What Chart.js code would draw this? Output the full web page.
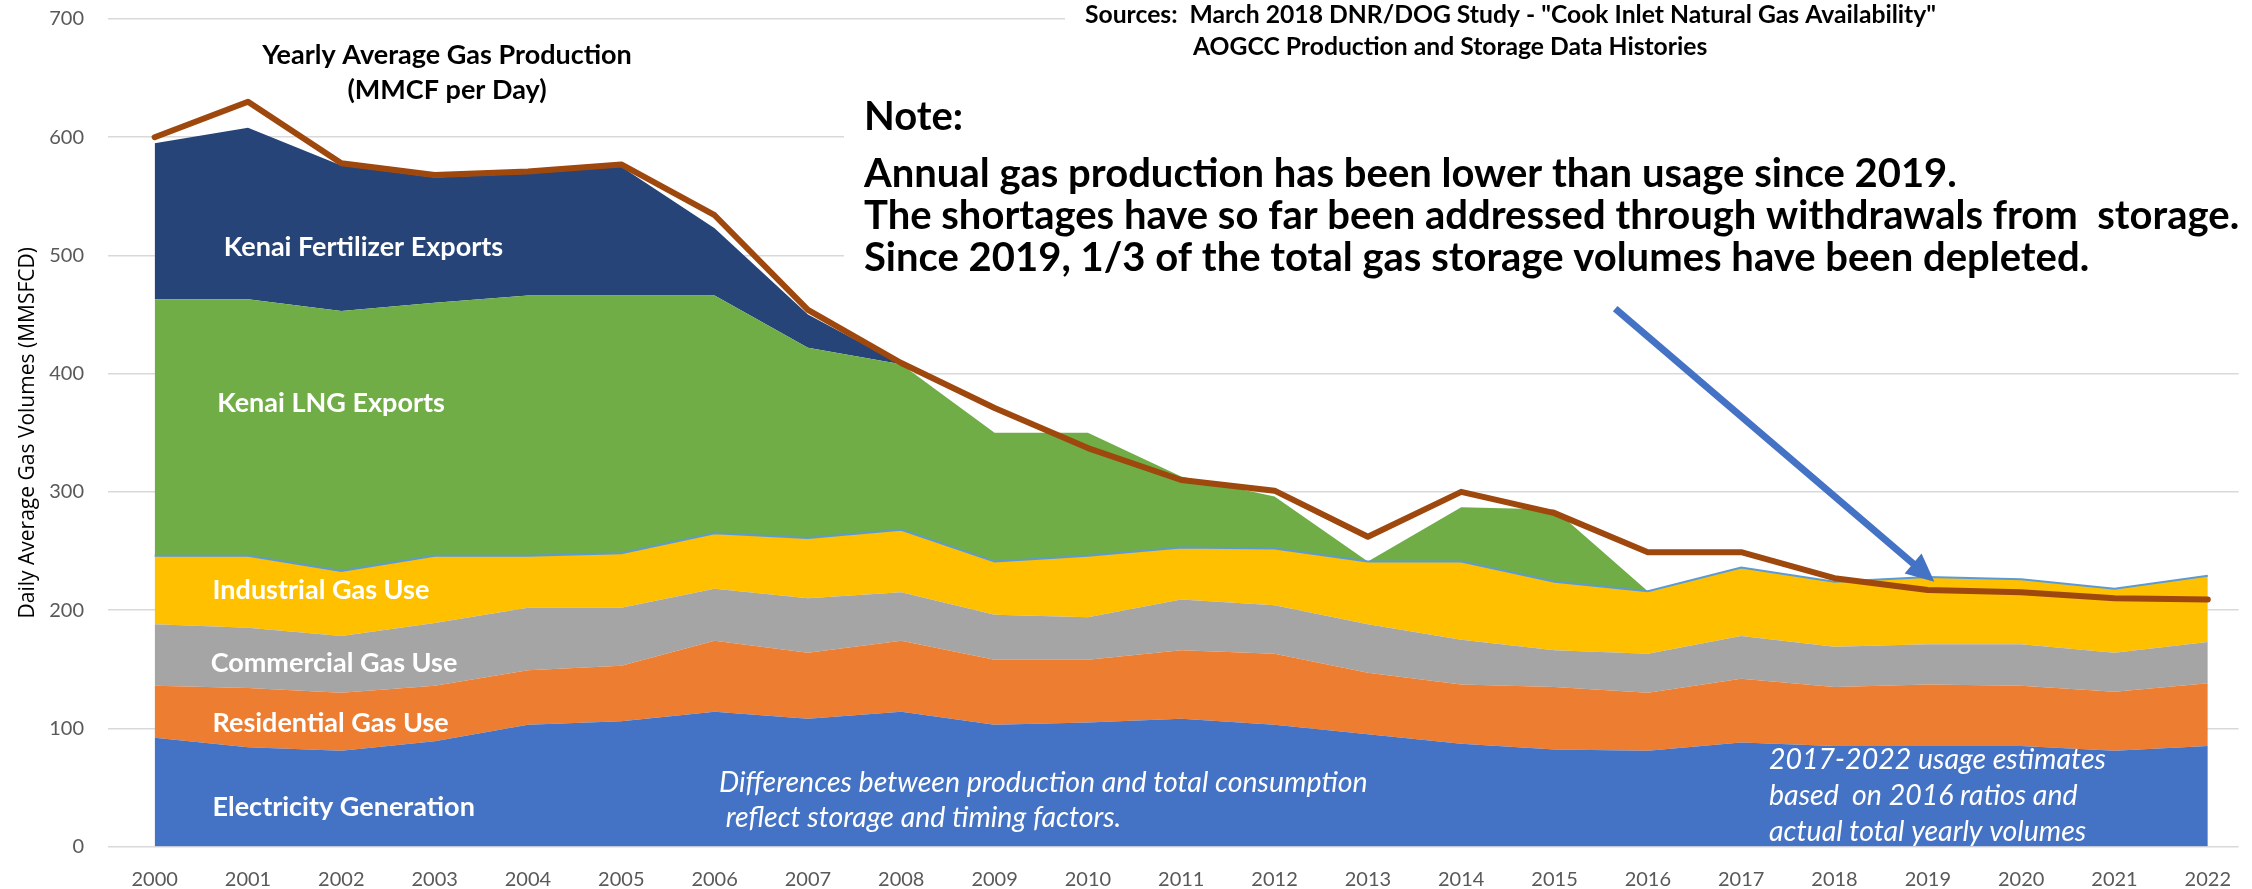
<!DOCTYPE html>
<html>
<head>
<meta charset="utf-8">
<script src="https://cdn.jsdelivr.net/npm/chart.js@4/dist/chart.umd.min.js"></script>
<style>
  html, body { margin: 0; padding: 0; background: #fff; }
</style>
</head>
<body>
<canvas id="chart" width="2252" height="889"></canvas>
<script>
const years = [2000, 2001, 2002, 2003, 2004, 2005, 2006, 2007, 2008, 2009, 2010, 2011,
  2012, 2013, 2014, 2015, 2016, 2017, 2018, 2019, 2020, 2021, 2022];

// daily average volumes, MMSCFD (stacked layers)
const electricity = [92, 84, 81, 89, 103, 106, 114, 108, 114, 103, 105, 108, 103, 95, 87, 82, 81, 88, 85, 85, 85, 81, 85];
const residential = [44, 50, 49, 47, 46, 47, 60, 56, 60, 55, 53, 58, 60, 52, 50, 53, 49, 54, 50, 52, 51, 50, 53];
const commercial = [52, 51, 48, 53, 53, 49, 44, 46, 41, 38, 36, 43, 41, 41, 38, 31, 33, 36, 34, 34, 35, 33, 35];
const industrial = [58, 61, 55, 57, 44, 46, 47, 51, 53, 45, 52, 44, 48, 53, 66, 58, 53, 58, 55, 57, 55, 54, 56];
const lngExports = [217, 217, 220, 214, 220, 218, 201, 161, 140, 109, 104, 60, 44, 0, 46, 61, 0, 0, 0, 0, 0, 0, 0];
const fertilizerExports = [132, 145, 123, 106, 103, 109, 57, 28, 0, 0, 0, 0, 0, 0, 0, 0, 0, 0, 0, 0, 0, 0, 0];

// yearly average production, MMCF per day
const production = [600, 630, 578, 568, 571, 577, 534, 454, 409, 371, 337, 310, 301, 262, 300, 282, 249, 249, 227, 217, 215, 210, 209];

const yTicks = [0, 100, 200, 300, 400, 500, 600, 700];

// arrow pointing at 2019 usage: [year, volume]
const arrowFrom = [2015.65, 455];
const arrowTo = [2019.07, 224];

Chart.defaults.font.family = 'Lato';

function area(label, values, color, fill) {
  return {
    label,
    data: values,
    stack: 'use',
    order: 1,
    fill,
    backgroundColor: color,
    borderColor: 'transparent',
    borderWidth: 1,
    pointRadius: 0,
    tension: 0,
  };
}

const overlay = {
  id: 'overlay',
  beforeDatasetsDraw(chart) {
    // white text boxes sit on top of the gridlines
    const { ctx } = chart;
    ctx.save();
    ctx.fillStyle = '#fff';
    ctx.fillRect(1065, 0, 1187, 64);
    ctx.fillRect(844, 88, 1408, 210);
    ctx.restore();
  },
  afterDatasetsDraw(chart) {
    const { ctx, scales: { x, y } } = chart;
    ctx.save();

    // arrow
    const x0 = x.getPixelForValue(arrowFrom[0]);
    const y0 = y.getPixelForValue(arrowFrom[1]);
    const x1 = x.getPixelForValue(arrowTo[0]);
    const y1 = y.getPixelForValue(arrowTo[1]);
    const a = Math.atan2(y1 - y0, x1 - x0);
    const cos = Math.cos(a), sin = Math.sin(a);
    const bx = x1 - 28 * cos, by = y1 - 28 * sin;
    ctx.strokeStyle = '#4472C4';
    ctx.fillStyle = '#4472C4';
    ctx.lineWidth = 7;
    ctx.beginPath();
    ctx.moveTo(x0, y0);
    ctx.lineTo(bx + 2 * cos, by + 2 * sin);
    ctx.stroke();
    ctx.beginPath();
    ctx.moveTo(x1, y1);
    ctx.lineTo(bx - 13 * sin, by + 13 * cos);
    ctx.lineTo(bx + 13 * sin, by - 13 * cos);
    ctx.closePath();
    ctx.fill();

    ctx.textBaseline = 'middle';
    ctx.textAlign = 'left';

    // layer names
    ctx.fillStyle = '#fff';
    ctx.font = 'bold 27px Lato';
    const names = [
      ['Kenai Fertilizer Exports', 2000.74, 507],
      ['Kenai LNG Exports', 2000.67, 375],
      ['Industrial Gas Use', 2000.62, 217],
      ['Commercial Gas Use', 2000.6, 155],
      ['Residential Gas Use', 2000.62, 104],
      ['Electricity Generation', 2000.62, 33],
    ];
    names.forEach(([t, yr, v]) => ctx.fillText(t, x.getPixelForValue(yr), y.getPixelForValue(v)));

    ctx.font = 'italic 28.5px Lato';
    ctx.fillText('Differences between production and total consumption', 719, 783);
    ctx.fillText(' reflect storage and timing factors.', 719, 818);
    ctx.fillText('2017-2022 usage estimates', 1769, 760);
    ctx.fillText('based  on 2016 ratios and', 1769, 796);
    ctx.fillText('actual total yearly volumes', 1769, 832);

    // chart title
    ctx.fillStyle = '#000';
    ctx.textAlign = 'center';
    ctx.font = 'bold 27px Lato';
    ctx.fillText('Yearly Average Gas Production', 447, 55);
    ctx.fillText('(MMCF per Day)', 447, 90);

    ctx.textAlign = 'left';
    ctx.font = 'bold 24.7px Lato';
    ctx.fillText('Sources:  March 2018 DNR/DOG Study - "Cook Inlet Natural Gas Availability"', 1085, 15);
    ctx.fillText('AOGCC Production and Storage Data Histories', 1193, 47);

    ctx.font = 'bold 40px Lato';
    ctx.fillText('Note:', 864, 117);
    ctx.fillText('Annual gas production has been lower than usage since 2019.', 864, 174);
    ctx.fillText('The shortages have so far been addressed through withdrawals from  storage.', 864, 216);
    ctx.fillText('Since 2019, 1/3 of the total gas storage volumes have been depleted.', 864, 258);

    ctx.restore();
  },
};

const config = {
  type: 'line',
  data: {
    labels: years,
    datasets: [
      {
        label: 'Yearly Average Gas Production',
        data: production,
        stack: 'production',
        order: 0,
        fill: false,
        borderColor: '#9E480E',
        borderWidth: 6,
        borderCapStyle: 'round',
        borderJoinStyle: 'round',
        pointRadius: 0,
        tension: 0,
      },
      area('Electricity Generation', electricity, '#4472C4', 'origin'),
      area('Residential Gas Use', residential, '#ED7D31', '-1'),
      area('Commercial Gas Use', commercial, '#A5A5A5', '-1'),
      Object.assign(area('Industrial Gas Use', industrial, '#FFC000', '-1'), {
        borderColor: '#5B9BD5',
        borderWidth: 2,
      }),
      area('Kenai LNG Exports', lngExports, '#70AD47', '-1'),
      area('Kenai Fertilizer Exports', fertilizerExports, '#264478', '-1'),
    ],
  },
  options: {
    responsive: false,
    animation: false,
    layout: { padding: { top: 19, right: 0, bottom: 0, left: 0 } },
    scales: {
      x: {
        type: 'linear',
        min: 1999.5,
        max: 2022.33,
        afterFit: (scale) => { scale.height = 42.5; },
        grid: { display: false, drawTicks: false },
        border: { display: false },
        ticks: {
          stepSize: 1,
          includeBounds: false,
          padding: 21,
          color: '#595959',
          font: { size: 20 },
          callback: (value) => (years.includes(value) ? String(value) : ''),
        },
      },
      y: {
        stacked: true,
        min: 0,
        max: 700,
        afterFit: (scale) => {
          scale.width = 108;
          // keep the label padding from pushing the plot top down
          scale.paddingTop = 0;
          scale.paddingBottom = 0;
        },
        afterBuildTicks: (scale) => { scale.ticks = yTicks.map((v) => ({ value: v })); },
        grid: { color: '#D9D9D9', lineWidth: 1.5, drawTicks: false },
        border: { display: false },
        ticks: {
          padding: 24,
          color: '#595959',
          font: { size: 20 },
        },
        title: {
          display: true,
          text: 'Daily Average Gas Volumes (MMSFCD)',
          color: '#000',
          font: { family: 'Open Sans', size: 21 },
          padding: { top: 15, bottom: 0 },
        },
      },
    },
    plugins: {
      legend: { display: false },
      tooltip: { enabled: false },
    },
  },
  plugins: [overlay],
};

new Chart(document.getElementById('chart'), config);
</script>
</body>
</html>
